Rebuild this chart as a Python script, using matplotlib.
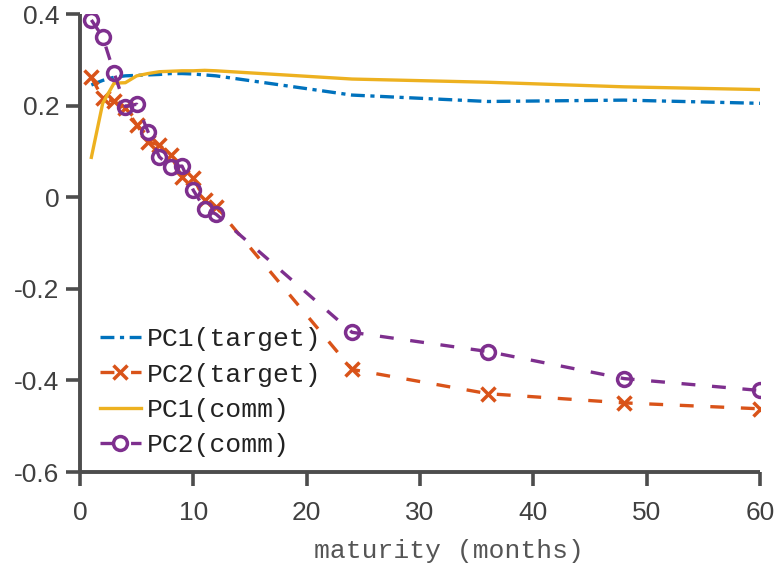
import numpy as np
import matplotlib
matplotlib.use("Agg")
import matplotlib.pyplot as plt

# maturities (months)
maturity = [1, 2, 3, 4, 5, 6, 7, 8, 9, 10, 11, 12, 24, 36, 48, 60]

# loadings
pc1_target = [0.245, 0.255, 0.262, 0.265, 0.266, 0.267, 0.268, 0.270, 0.270, 0.269,
              0.267, 0.265, 0.223, 0.209, 0.212, 0.205]
pc2_target = [0.262, 0.216, 0.209, 0.195, 0.158, 0.121, 0.114, 0.092, 0.044, 0.043,
              -0.007, -0.021, -0.376, -0.429, -0.449, -0.462]
pc1_comm = [0.087, 0.205, 0.249, 0.250, 0.265, 0.270, 0.274, 0.275, 0.276, 0.276,
            0.277, 0.276, 0.258, 0.251, 0.241, 0.235]
pc2_comm = [0.387, 0.350, 0.272, 0.198, 0.203, 0.143, 0.088, 0.066, 0.068, 0.015,
            -0.025, -0.037, -0.295, -0.337, -0.396, -0.422]

labels = ["PC1(target)", "PC2(target)", "PC1(comm)", "PC2(comm)"]

plt.rcParams["lines.scale_dashes"] = False
tick_font = ["Liberation Sans", "DejaVu Sans"]
mono_font = ["Liberation Mono", "DejaVu Sans Mono"]
axis_col = "#4d4d4d"

fig = plt.figure(figsize=(7.74, 5.67), dpi=100)
ax = fig.add_axes([0.1034, 0.1675, 0.8786, 0.8078])

lw = 2.4
ax.plot(maturity, pc1_target, color="#0072BD", lw=lw, dashes=(10, 4, 3, 4),
        label=labels[0])
ax.plot(maturity, pc2_target, color="#D95319", lw=lw, dashes=(10, 12),
        marker="x", ms=10, mew=2.5, label=labels[1])
ax.plot(maturity, pc1_comm, color="#EDB120", lw=lw, label=labels[2])
ax.plot(maturity, pc2_comm, color="#7E2F8E", lw=lw, dashes=(10, 12),
        marker="o", ms=10, mew=2.5, mfc="none", label=labels[3])

ax.set_xlim(0, 60)
ax.set_ylim(-0.6, 0.4)
ax.set_xticks(np.arange(0, 61, 10))
ax.set_yticks([-0.6, -0.4, -0.2, 0, 0.2, 0.4])
ax.set_yticklabels(["-0.6", "-0.4", "-0.2", "0", "0.2", "0.4"])

for s in ["top", "right"]:
    ax.spines[s].set_visible(False)
for s in ["left", "bottom"]:
    ax.spines[s].set_linewidth(2.8)
    ax.spines[s].set_color(axis_col)
    ax.spines[s].set_capstyle("butt")

ax.tick_params(direction="out", length=10, width=2.6, color=axis_col,
               labelcolor="#404040", labelsize=19)
ax.tick_params(axis="x", pad=11)
ax.tick_params(axis="y", pad=5)
for t in ax.get_xticklabels() + ax.get_yticklabels():
    t.set_family(tick_font)

ax.set_xlabel("maturity (months)", family=mono_font, fontsize=19,
              color="#555555", labelpad=7)
ax.xaxis.set_label_coords(0.543, -0.147)

leg = ax.legend(loc="lower left", bbox_to_anchor=(0.0074, 0.0), frameon=False,
                prop={"family": mono_font, "size": 19}, handlelength=1.55,
                handletextpad=0.25, labelspacing=0.43, borderaxespad=0.16)
for t in leg.get_texts():
    t.set_color("#222222")

fig.savefig("out.png", dpi=100)
